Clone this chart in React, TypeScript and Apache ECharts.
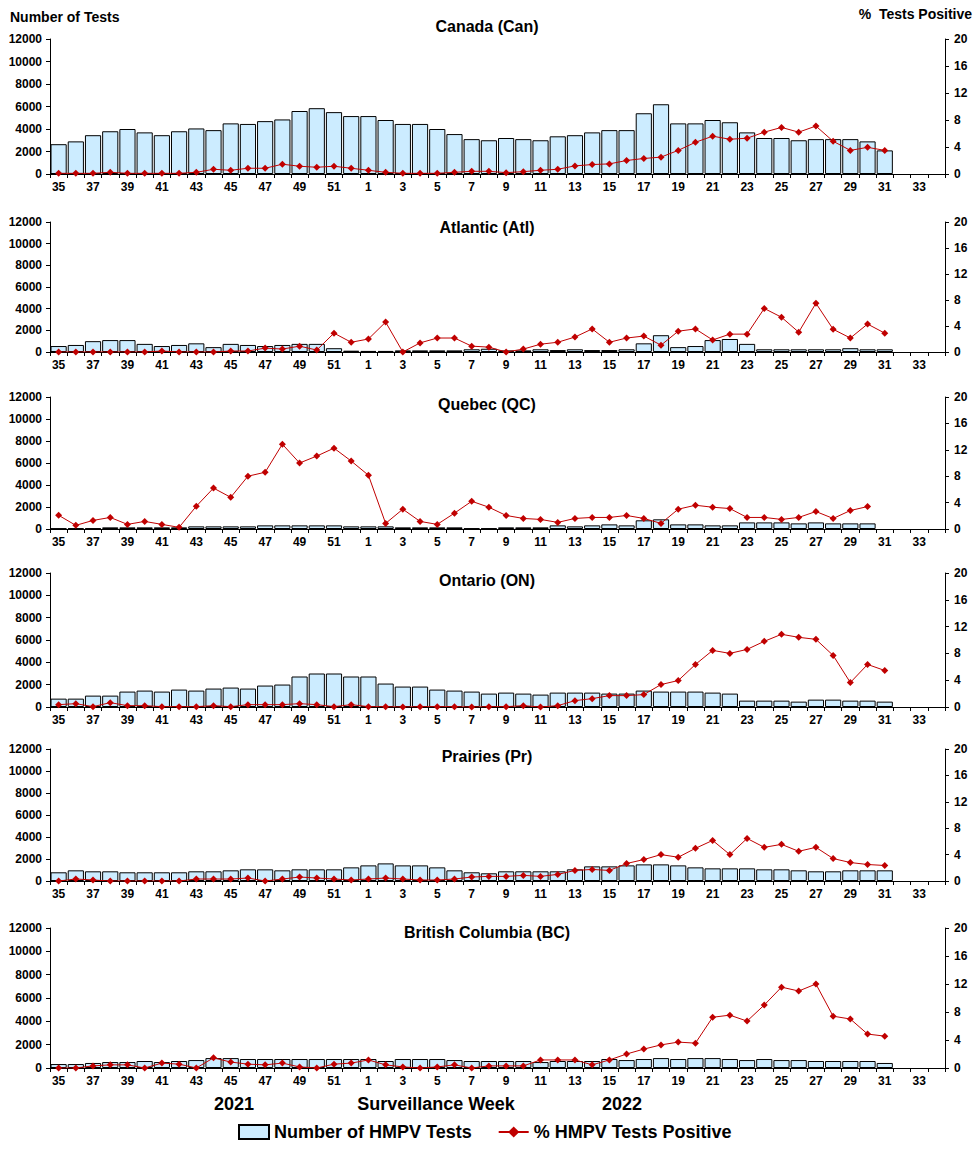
import React, { useEffect, useRef } from "react";
import * as echarts from "echarts";

// Surveillance weeks: 2021 weeks 35–52, then 2022 weeks 1–34
const WEEKS = [
  "35", "36", "37", "38", "39", "40", "41", "42", "43", "44", "45", "46", "47", "48", "49", "50", "51", "52",
  "1", "2", "3", "4", "5", "6", "7", "8", "9", "10", "11", "12", "13", "14", "15", "16", "17",
  "18", "19", "20", "21", "22", "23", "24", "25", "26", "27", "28", "29", "30", "31", "32", "33", "34",
];

const TESTS_TICKS = [0, 12000, 2000];
const PCT_TICKS = [0, 20, 4];

// Number of HMPV tests per week
const CAN_TESTS = [
  2650, 2900, 3450, 3800, 4000, 3700, 3450, 3800, 4050, 3900, 4500, 4450, 4700, 4850, 5600, 5850, 5500, 5150,
  5150, 4800, 4450, 4450, 4000, 3550, 3100, 3000, 3200, 3100, 3000, 3350, 3450, 3700, 3900, 3900, 5400, 6200,
  4500, 4500, 4800, 4600, 3700, 3200, 3200, 3000, 3100, 3100, 3100, 2900, 2100,
];
const ATL_TESTS = [
  550, 650, 1000, 1100, 1100, 750, 550, 650, 800, 450, 750, 650, 550, 650, 750, 750, 350, 120,
  100, 100, 150, 150, 150, 150, 250, 300, 150, 150, 250, 180, 250, 180, 180, 250, 800, 1550,
  450, 550, 1100, 1200, 750, 250, 250, 250, 250, 250, 350, 250, 250,
];
const QC_TESTS = [
  50, 60, 60, 150, 150, 150, 150, 150, 240, 240, 240, 240, 330, 330, 330, 330, 330, 240,
  240, 240, 150, 150, 150, 150, 60, 60, 150, 150, 150, 330, 240, 330, 420, 330, 790, 880,
  420, 420, 330, 330, 600, 600, 600, 510, 600, 510, 510, 510,
];
const ON_TESTS = [
  750, 750, 1020, 1020, 1380, 1470, 1380, 1560, 1470, 1650, 1740, 1650, 1920, 2010, 2730, 3000, 3000, 2730,
  2730, 2100, 1830, 1830, 1560, 1470, 1380, 1200, 1290, 1200, 1110, 1290, 1290, 1290, 1200, 1200, 1470, 1380,
  1380, 1380, 1290, 1200, 570, 570, 570, 480, 660, 660, 570, 570, 480,
];
const PR_TESTS = [
  790, 970, 880, 880, 790, 790, 790, 790, 880, 880, 970, 1060, 1060, 970, 1060, 1060, 1060, 1240,
  1420, 1600, 1420, 1420, 1240, 970, 790, 700, 880, 880, 880, 880, 1060, 1330, 1330, 1420, 1510, 1510,
  1420, 1240, 1150, 1150, 1150, 1060, 1060, 970, 880, 880, 970, 970, 970,
];
const BC_TESTS = [
  340, 340, 430, 510, 510, 600, 510, 600, 680, 850, 850, 770, 770, 770, 770, 770, 770, 770,
  770, 600, 770, 770, 770, 680, 600, 600, 600, 600, 510, 600, 600, 600, 770, 680, 770, 850,
  770, 850, 850, 770, 680, 770, 680, 680, 600, 600, 600, 600, 430,
];

// Percentage of HMPV tests positive per week
const CAN_POS = [
  0.1, 0.1, 0.1, 0.25, 0.1, 0.1, 0.1, 0.1, 0.25, 0.7, 0.55, 0.85, 0.85, 1.45, 1.15, 1.0, 1.15, 0.85,
  0.55, 0.25, 0.1, 0.1, 0.1, 0.25, 0.4, 0.4, 0.2, 0.35, 0.55, 0.7, 1.2, 1.4, 1.5, 2.0, 2.3, 2.5,
  3.5, 4.7, 5.6, 5.15, 5.3, 6.2, 6.9, 6.2, 7.1, 4.85, 3.5, 3.95, 3.5,
];
const ATL_POS = [
  0, 0, 0, 0, 0, 0, 0.15, 0, 0, 0, 0.15, 0.15, 0.6, 0.45, 0.9, 0.3, 2.9, 1.5,
  2.0, 4.6, 0, 1.4, 2.15, 2.15, 0.9, 0.75, 0, 0.45, 1.2, 1.5, 2.3, 3.55, 1.5, 2.15, 2.45, 1.05,
  3.2, 3.55, 1.85, 2.75, 2.75, 6.7, 5.35, 3.05, 7.5, 3.5, 2.15, 4.3, 2.9,
];
const QC_POS = [
  2.08, 0.55, 1.3, 1.75, 0.7, 1.15, 0.7, 0.25, 3.45, 6.2, 4.8, 8.0, 8.6, 12.85, 10.0, 11.05, 12.25, 10.3,
  8.15, 0.85, 3.0, 1.15, 0.7, 2.4, 4.2, 3.3, 2.05, 1.6, 1.45, 1.0, 1.6, 1.75, 1.75, 2.05, 1.6, 0.85,
  3.0, 3.6, 3.3, 3.1, 1.75, 1.75, 1.45, 1.75, 2.65, 1.6, 2.8, 3.4,
];
const ON_POS = [
  0.35, 0.5, 0.05, 0.65, 0.2, 0.2, 0.05, 0.05, 0.05, 0.2, 0.05, 0.35, 0.35, 0.35, 0.5, 0.35, 0.05, 0.35,
  0.05, 0.05, 0, 0.05, 0.05, 0.05, 0, 0.05, 0.05, 0.2, 0, 0.2, 0.95, 1.25, 1.7, 1.7, 1.85, 3.35,
  3.95, 6.35, 8.45, 8.0, 8.6, 9.8, 10.85, 10.4, 10.1, 7.7, 3.65, 6.35, 5.45,
];
const PR_POS = [
  0, 0.3, 0.15, 0, 0, 0, 0, 0, 0.3, 0.3, 0.3, 0.45, 0, 0.3, 0.6, 0.45, 0.3, 0.15,
  0.3, 0.45, 0.3, 0.15, 0.15, 0.3, 0.6, 0.7, 0.7, 0.85, 0.7, 1.0, 1.6, 1.75, 1.6, 2.65, 3.25, 4.0,
  3.6, 4.95, 6.15, 4.0, 6.45, 5.1, 5.55, 4.5, 5.1, 3.4, 2.8, 2.5, 2.35,
];
const BC_POS = [
  0, 0, 0.3, 0.45, 0.45, 0, 0.7, 0.55, 0, 1.45, 0.85, 0.55, 0.45, 0.7, 0.15, 0, 0.55, 0.7,
  1.15, 0.45, 0.15, 0, 0.15, 0.45, 0, 0.3, 0.3, 0.3, 1.15, 1.15, 1.15, 0.45, 1.15, 2.0, 2.7, 3.3,
  3.7, 3.55, 7.25, 7.55, 6.7, 9.0, 11.55, 11.0, 12.0, 7.4, 7.0, 4.85, 4.55,
];

const REGION_TITLES = [
  "Canada (Can)",
  "Atlantic (Atl)",
  "Quebec (QC)",
  "Ontario (ON)",
  "Prairies (Pr)",
  "British Columbia (BC)",
];
const TESTS_SERIES = [CAN_TESTS, ATL_TESTS, QC_TESTS, ON_TESTS, PR_TESTS, BC_TESTS];
const POS_SERIES = [CAN_POS, ATL_POS, QC_POS, ON_POS, PR_POS, BC_POS];

const BAR_NAME = "Number of HMPV Tests";
const LINE_NAME = "% HMPV Tests Positive";

// Panel geometry (pixels)
const PANELS = [
  { top: 39, height: 135, titleY: 26 },
  { top: 222, height: 130, titleY: 227 },
  { top: 397, height: 132, titleY: 404 },
  { top: 573, height: 134, titleY: 580 },
  { top: 749, height: 132, titleY: 756 },
  { top: 928, height: 140, titleY: 932 },
];

const FONT = "'Liberation Sans', Arial, Helvetica, sans-serif";
const RED = "#C00000";
const BAR_FILL = "#CCECFF";

const boldText = (size: number) => ({
  color: "#000",
  fontWeight: "bold" as const,
  fontSize: size,
  fontFamily: FONT,
});

const plain = (v: number) => String(v);

export default function App() {
  const ref = useRef<HTMLDivElement>(null);

  useEffect(() => {
    if (!ref.current) return;
    const chart = echarts.init(ref.current, undefined, { renderer: "svg" });

    const grid = PANELS.map((p) => ({ left: 50, right: 31, top: p.top, height: p.height }));

    const xAxis = PANELS.map((_, i) => ({
      type: "category",
      gridIndex: i,
      data: WEEKS,
      boundaryGap: true,
      axisLine: { show: true, lineStyle: { color: "#000", width: 1 } },
      axisTick: { show: true, interval: 0, length: 4, lineStyle: { color: "#000" } },
      axisLabel: { interval: 1, margin: 7, ...boldText(12) },
      splitLine: { show: false },
    }));

    const yAxis: any[] = [];
    PANELS.forEach((_, i) => {
      yAxis.push({
        type: "value",
        gridIndex: i,
        position: "left",
        min: TESTS_TICKS[0],
        max: TESTS_TICKS[1],
        interval: TESTS_TICKS[2],
        axisLine: { show: true, lineStyle: { color: "#000", width: 1 } },
        axisTick: { show: true, length: 4, lineStyle: { color: "#000" } },
        axisLabel: { margin: 8, formatter: plain, ...boldText(12) },
        splitLine: { show: false },
      });
      yAxis.push({
        type: "value",
        gridIndex: i,
        position: "right",
        min: PCT_TICKS[0],
        max: PCT_TICKS[1],
        interval: PCT_TICKS[2],
        axisLine: { show: true, lineStyle: { color: "#000", width: 1 } },
        axisTick: { show: true, length: 4, lineStyle: { color: "#000" } },
        axisLabel: { margin: 9, formatter: plain, ...boldText(12) },
        splitLine: { show: false },
      });
    });

    const series: any[] = [];
    PANELS.forEach((_, i) => {
      series.push({
        type: "bar",
        name: BAR_NAME,
        xAxisIndex: i,
        yAxisIndex: i * 2,
        data: TESTS_SERIES[i],
        barCategoryGap: "6%",
        itemStyle: { color: BAR_FILL, borderColor: "#000", borderWidth: 1 },
        z: 2,
      });
    });
    PANELS.forEach((_, i) => {
      series.push({
        type: "line",
        name: LINE_NAME,
        xAxisIndex: i,
        yAxisIndex: i * 2 + 1,
        data: POS_SERIES[i],
        symbol: "diamond",
        symbolSize: 7,
        lineStyle: { color: RED, width: 1 },
        itemStyle: { color: RED },
        z: 3,
      });
    });

    const graphic: any[] = [
      {
        type: "text",
        left: 10,
        top: 10,
        style: { text: "Number of Tests", fill: "#000", font: `bold 14px ${FONT}` },
      },
      {
        type: "text",
        right: 4,
        top: 7,
        style: { text: "%  Tests Positive", fill: "#000", font: `bold 14px ${FONT}` },
      },
      {
        type: "text",
        x: 234,
        y: 1104,
        style: { text: "2021", fill: "#000", font: `bold 18px ${FONT}`, textAlign: "center", textVerticalAlign: "middle" },
      },
      {
        type: "text",
        x: 436,
        y: 1104,
        style: { text: "Surveillance Week", fill: "#000", font: `bold 18px ${FONT}`, textAlign: "center", textVerticalAlign: "middle" },
      },
      {
        type: "text",
        x: 622,
        y: 1104,
        style: { text: "2022", fill: "#000", font: `bold 18px ${FONT}`, textAlign: "center", textVerticalAlign: "middle" },
      },
    ];
    PANELS.forEach((p, i) => {
      graphic.push({
        type: "text",
        x: 487,
        y: p.titleY,
        z: 10,
        style: {
          text: REGION_TITLES[i],
          fill: "#000",
          font: `bold 16px ${FONT}`,
          textAlign: "center",
          textVerticalAlign: "middle",
        },
      });
    });

    chart.setOption({
      animation: false,
      backgroundColor: "#fff",
      grid,
      xAxis,
      yAxis,
      series,
      graphic,
      legend: {
        top: 1118,
        left: 233,
        itemWidth: 30,
        itemHeight: 14,
        itemGap: 26,
        data: [{ name: BAR_NAME, icon: "rect" }, { name: LINE_NAME }],
        textStyle: { ...boldText(18) },
      },
    });

    return () => chart.dispose();
  }, []);

  return (
    <div
      ref={ref}
      style={{ position: "fixed", left: 0, top: 0, width: 976, height: 1152, background: "#fff" }}
    />
  );
}
